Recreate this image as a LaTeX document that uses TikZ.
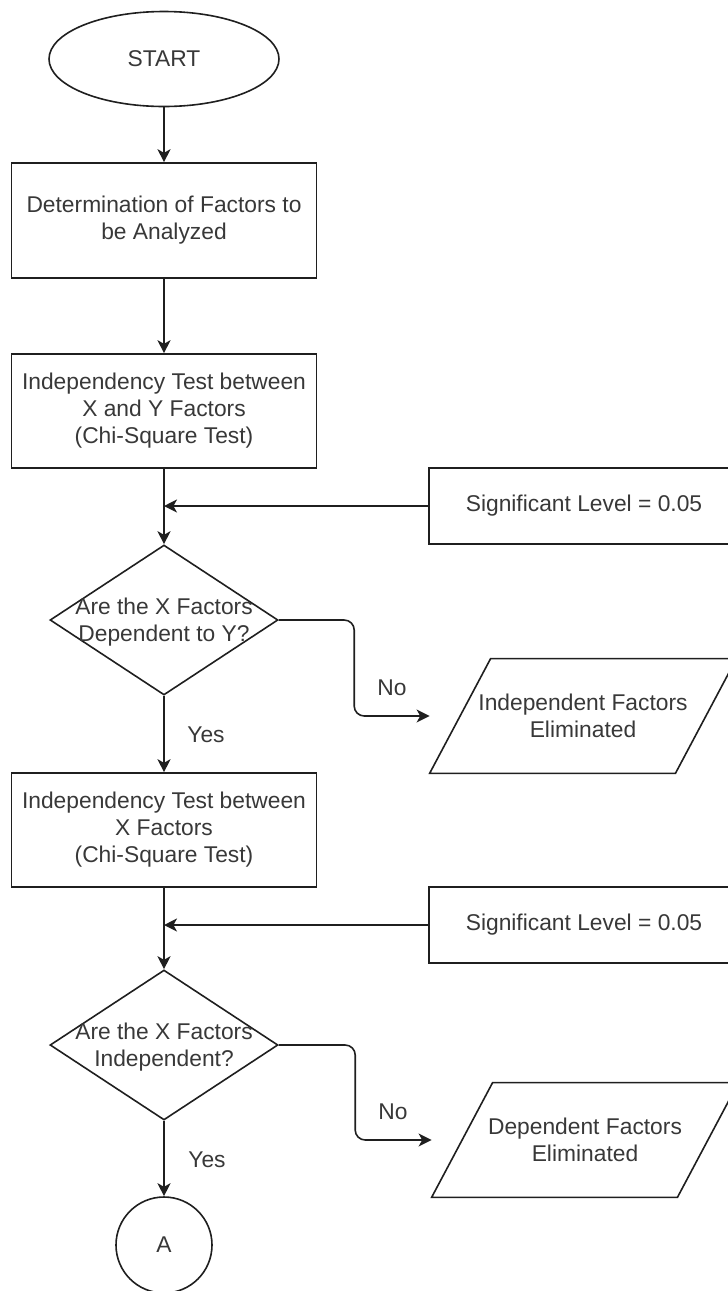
\documentclass[tikz,border=0pt]{standalone}
\usepackage{fontspec}
\setmainfont{Liberation Sans}
\usetikzlibrary{shapes.geometric,arrows.meta,calc}
\begin{document}
\begin{tikzpicture}[x=0.5pt,y=-0.5pt,
  every node/.style={font=\fontsize{11.4}{13.5}\selectfont, text=black!78},
  line/.style={draw=black!88, line width=0.8pt},
  flow/.style={line, -{Stealth[length=6.5pt,width=6.5pt,inset=1.8pt]}},
  terminal/.style={line, ellipse, minimum width=115pt, minimum height=47.5pt, inner sep=0pt},
  process/.style={line, rectangle, minimum width=152.5pt, minimum height=57.5pt, align=center, inner sep=0pt},
  param/.style={line, rectangle, minimum width=155pt, minimum height=38pt, align=center, inner sep=0pt},
  decision/.style={line, diamond, minimum width=114pt, minimum height=75pt, inner sep=0pt},
  dtext/.style={align=center, inner sep=0pt},
  iobox/.style={rectangle, minimum width=153pt, minimum height=57pt, align=center, inner sep=0pt},
  connector/.style={line, circle, minimum size=48pt, inner sep=0pt},
  tag/.style={inner sep=0pt}
]
\useasboundingbox (0,0) rectangle (728,1291);
\clip (0,0) rectangle (728,1291);

% main column
\node[terminal] (start) at (164,59) {START};
\node[process] (b1) at (164,220.5) {Determination of Factors to\\be Analyzed};
\node[process, minimum height=57pt] (b2) at (164,411) {Independency Test between\\X and Y Factors\\(Chi-Square Test)};
\node[decision] (d1) at (164,620) {};
\node[dtext] (d1t) at (164,622) {Are the X Factors\\Dependent to Y?};
\node[process, minimum height=57pt] (b3) at (164,830) {Independency Test between\\X Factors\\(Chi-Square Test)};
\node[decision] (d2) at (164,1045) {};
\node[dtext] (d2t) at (164,1047) {Are the X Factors\\Independent?};
\node[connector] (a) at (164,1245) {A};

% side inputs
\node[param] (s1) at (584,506) {Significant Level = 0.05};
\node[param] (s2) at (584,925) {Significant Level = 0.05};

% rejected outputs (parallelograms)
\node[iobox] (p1) at (583,716) {Independent Factors\\Eliminated};
\draw[line] (p1.south west) -- ([xshift=30.5pt]p1.north west) -- (p1.north east)
  -- ([xshift=-30.5pt]p1.south east) -- cycle;
\node[iobox] (p2) at (585,1140) {Dependent Factors\\Eliminated};
\draw[line] (p2.south west) -- ([xshift=30.5pt]p2.north west) -- (p2.north east)
  -- ([xshift=-30.5pt]p2.south east) -- cycle;

% junctions on the main line
\coordinate (j1) at (164,506);
\coordinate (j2) at (164,925);
\coordinate (n1) at ($(d1.east)!0.5!(p1.west)$);
\coordinate (n2) at ($(d2.east)!0.5!(p2.west)$);

% connectors
\draw[flow] (start.south) -- (b1.north);
\draw[flow] (b1.south) -- (b2.north);
\draw[flow] (b2.south) -- (d1.north);
\draw[flow] (s1.west) -- (j1);
\draw[flow] (d1.south) -- (b3.north);
\draw[flow, rounded corners=5pt] (d1.east) -| (n1) |- (p1.west);
\draw[flow] (b3.south) -- (d2.north);
\draw[flow] (s2.west) -- (j2);
\draw[flow] (d2.south) -- (a.north);
\draw[flow, rounded corners=5pt] (d2.east) -| (n2) |- (p2.west);

% branch labels
\node[tag] (no1) at (392,688) {No};
\node[tag] (yes1) at (206,735) {Yes};
\node[tag] (no2) at (393,1112) {No};
\node[tag] (yes2) at (207,1160) {Yes};
\end{tikzpicture}
\end{document}
